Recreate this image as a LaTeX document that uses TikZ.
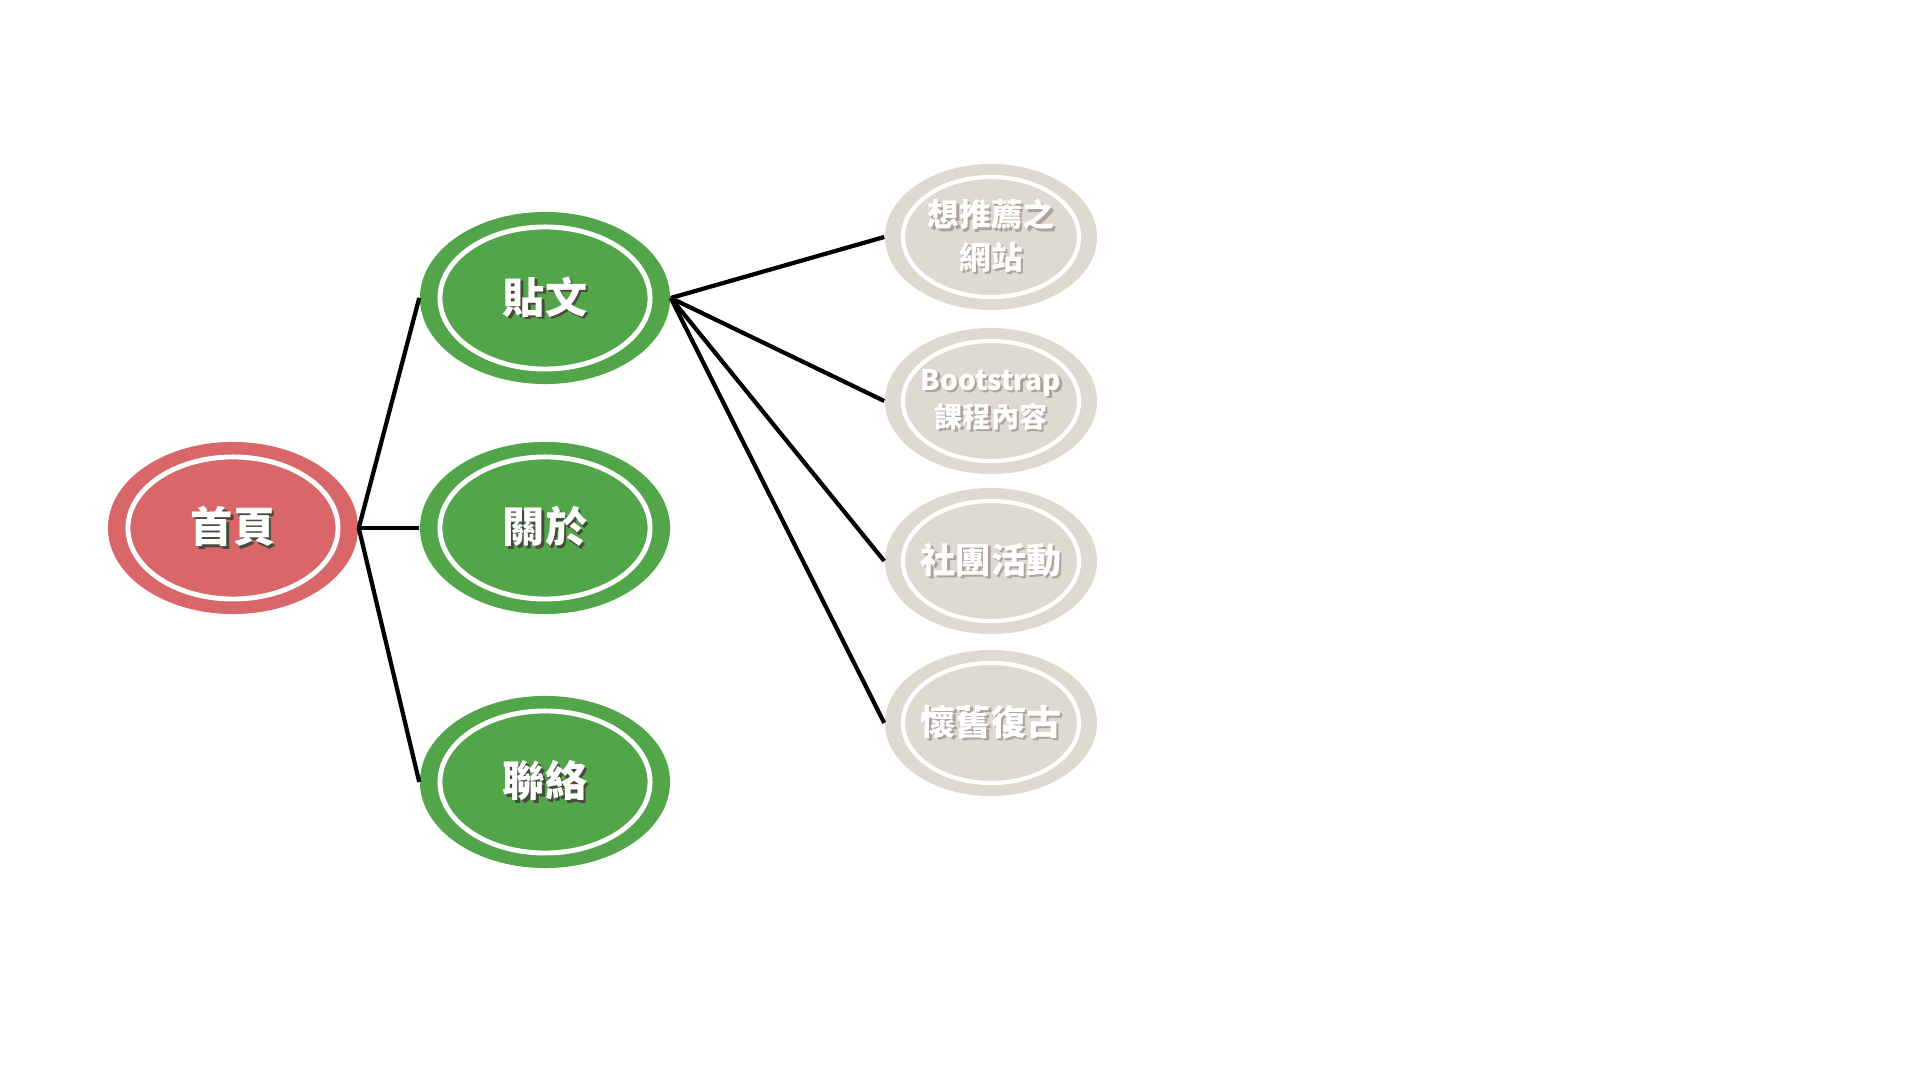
\documentclass[tikz,border=0pt]{standalone}
\usepackage{fontspec}
\usetikzlibrary{shapes.geometric}
\newfontfamily\cjk{Noto Sans CJK TC}
\definecolor{homered}{RGB}{217,102,104}
\definecolor{leafgreen}{RGB}{82,165,73}
\definecolor{leafgray}{RGB}{222,218,210}
\definecolor{shadowdark}{RGB}{70,75,60}
\definecolor{shadowgray}{RGB}{175,162,158}
\newcommand\shd[2]{\leavevmode\rlap{\kern0.7pt\raisebox{-0.7pt}{\color{#1}#2}}#2}
\tikzset{
  bignode/.style={ellipse, inner sep=0pt, minimum width=2.5cm, minimum height=1.72cm,
    text=white, font=\cjk\bfseries\fontsize{12}{14}\selectfont,
    path picture={\draw[white, line width=1.4pt] (path picture bounding box.center) ellipse (1.05cm and 0.71cm);}},
  smallnode/.style={ellipse, inner sep=0pt, minimum width=2.12cm, minimum height=1.46cm,
    fill=leafgray, text=white, align=center,
    path picture={\draw[white, line width=1.2pt] (path picture bounding box.center) ellipse (0.88cm and 0.6cm);}},
  link/.style={line width=1.2pt, black}
}
\begin{document}
\begin{tikzpicture}[x=0.01cm, y=-0.01cm]
\useasboundingbox (0,0) rectangle (1920,1080);
\node[bignode, fill=homered] (home) at (233,528) {\shd{shadowdark}{首頁}};
\node[bignode, fill=leafgreen] (post) at (545,298) {\shd{shadowdark}{貼文}};
\node[bignode, fill=leafgreen] (about) at (545,528) {\shd{shadowdark}{關於}};
\node[bignode, fill=leafgreen] (contact) at (545,782) {\shd{shadowdark}{聯絡}};
\node[smallnode, font=\cjk\bfseries\fontsize{9}{12}\selectfont] (g1) at (991,237) {\shd{shadowgray}{想推薦之}\\\shd{shadowgray}{網站}};
\node[smallnode, font=\cjk\bfseries\fontsize{8}{10.5}\selectfont] (g2) at (991,401) {\shd{shadowgray}{Bootstrap}\\\shd{shadowgray}{課程內容}};
\node[smallnode, font=\cjk\bfseries\fontsize{10}{12}\selectfont] (g3) at (991,561) {\shd{shadowgray}{社團活動}};
\node[smallnode, font=\cjk\bfseries\fontsize{10}{12}\selectfont] (g4) at (991,723) {\shd{shadowgray}{懷舊復古}};
\draw[link] (home.east) -- (post.west);
\draw[link] (home.east) -- (about.west);
\draw[link] (home.east) -- (contact.west);
\draw[link] (post.east) -- (g1.west);
\draw[link] (post.east) -- (g2.west);
\draw[link] (post.east) -- (g3.west);
\draw[link] (post.east) -- (g4.west);
\end{tikzpicture}
\end{document}
